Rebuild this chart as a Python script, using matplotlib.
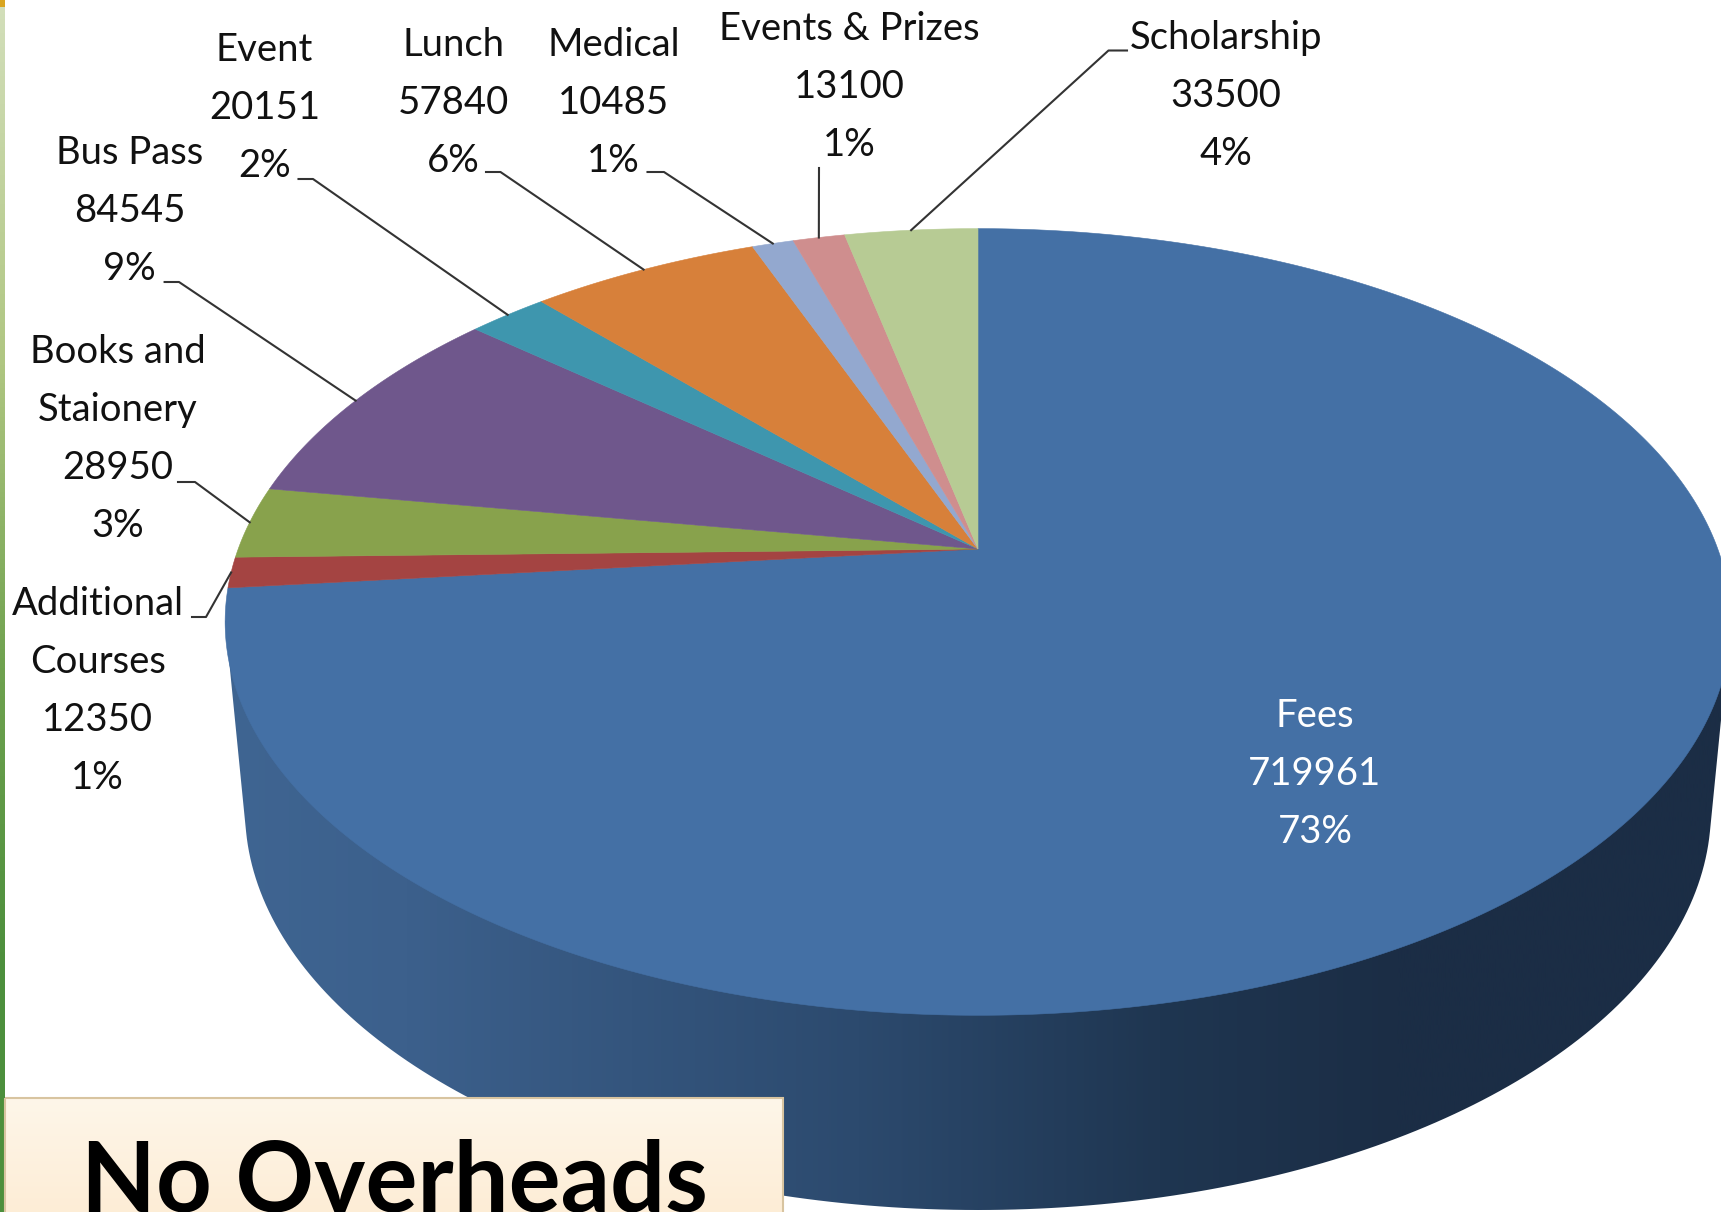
import numpy as np
import matplotlib
matplotlib.use("Agg")
import matplotlib.pyplot as plt
from matplotlib.colors import LinearSegmentedColormap

categories = ["Fees", "Additional\nCourses", "Books and\nStaionery", "Bus Pass", "Event",
              "Lunch", "Medical", "Events & Prizes", "Scholarship"]
values = [719961, 12350, 28950, 84545, 20151, 57840, 10485, 13100, 33500]
percents = ["73%", "1%", "3%", "9%", "2%", "6%", "1%", "1%", "4%"]
colors = ["#4470A5", "#A44442", "#88A24C", "#6F578C", "#3E96AE",
          "#D7803A", "#93A8CF", "#CF8E8E", "#B7CB94"]

# label centres in pixels
label_x = [1315, 97.7, 117.5, 129.5, 264.5, 453, 613.5, 849.5, 1226]
label_y = [774, 691, 439, 211, 108, 103, 103, 87, 96]
# leader lines start at the label, the last point comes from the slice
leaders = [None,
           [(192, 617), (206, 617)],
           [(178, 482), (195, 482)],
           [(164.6, 282), (179, 282)],
           [(298.5, 179), (313, 179)],
           [(486, 172), (500.5, 172)],
           [(647.5, 172), (664, 172)],
           [(819, 168)],
           [(1127, 50.5), (1108.5, 50.5)]]

W, H = 1721, 1212
CX, CY = 978, 549       # where the slices meet
RX, RY, K = 739.8, 379.8, 0.1855  # perspective of the top face


def project(theta):
    # theta clockwise from the top of the pie, radians
    x, y = np.sin(theta), np.cos(theta)
    w = 1 + K * y
    return CX + RX * x / w, CY - RY * y / w


plt.rcParams["font.family"] = ["Lato", "DejaVu Sans"]
fig = plt.figure(figsize=(W / 100, H / 100), dpi=100)
ax = fig.add_axes([0, 0, 1, 1])

# side wall, gradient clipped to the outline
t = np.linspace(0, 2 * np.pi, 721)
top_x, top_y = project(t)
left = np.argmin(top_x)
right = np.argmax(top_x)
# bottom ellipse from tangent point to tangent point, joined to the widest points on top
t_low = np.radians(np.linspace(3.1, 176.9, 181))
lx = 978 + 733 * np.cos(t_low)
ly = 810 + 400 * np.sin(t_low)
outline_x = np.r_[top_x[right], lx, top_x[left]]
outline_y = np.r_[top_y[right], ly, top_y[left]]
wall = ax.fill(outline_x, outline_y, facecolor="none", edgecolor="none")[0]
wall_cmap = LinearSegmentedColormap.from_list(
    "wall", [(0, "#3F6592"), (0.12, "#3C608C"), (0.42, "#2C4A6E"),
             (0.62, "#1F3651"), (0.78, "#1B2D45"), (1, "#1B2D45")])
grad = ax.imshow(np.linspace(0, 1, 512)[None, :], extent=(225, 1731, H, 0),
                 cmap=wall_cmap, aspect="auto", zorder=1)
grad.set_clip_path(wall)

# top face, one slice per value
total = sum(values)
start = 0.0
mids = []
for val, col in zip(values, colors):
    sweep = val / total * 2 * np.pi
    th = np.linspace(start, start + sweep, max(int(sweep * 180), 4))
    xs, ys = project(th)
    ax.fill(np.r_[CX, xs], np.r_[CY, ys], facecolor=col, edgecolor=col, lw=0.4, zorder=2)
    mids.append(start + sweep / 2)
    start += sweep

# labels and leader lines
for i, name in enumerate(categories):
    txt = f"{name}\n{values[i]}\n{percents[i]}"
    ax.text(label_x[i], label_y[i], txt, ha="center", va="center", fontsize=27.5,
            linespacing=1.75, color="white" if i == 0 else "#111111", zorder=5)
    if leaders[i]:
        ex, ey = project(mids[i])
        pts = leaders[i] + [(ex, ey)]
        ax.plot([p[0] for p in pts], [p[1] for p in pts], color="#333333", lw=1.5, zorder=4)

# green slide strip on the left edge
strip_cmap = LinearSegmentedColormap.from_list(
    "strip", [(0, "#D3DFBB"), (0.3, "#AFC681"), (0.55, "#6FA24F"), (0.8, "#4C8F3C"), (1, "#4C8F3C")])
ax.imshow(np.linspace(0, 1, 256)[:, None], extent=(0, 5, H, 0), cmap=strip_cmap,
          aspect="auto", zorder=3)
ax.fill([0, 5, 5, 0], [0, 0, 7, 7], color="#D9A520", lw=0, zorder=3.5)

# caption box
ax.fill([5, 783, 783, 5], [1098, 1098, 1230, 1230], facecolor="none",
        edgecolor="#D8C4A0", lw=1.5, zorder=6)
box_cmap = LinearSegmentedColormap.from_list("box", ["#FEF6E9", "#FDEDD6"])
ax.imshow(np.linspace(0, 1, 64)[:, None], extent=(5, 783, 1212, 1098),
          cmap=box_cmap, aspect="auto", zorder=5.5)
ax.text(394, 1212, "No Overheads", ha="center", va="baseline", fontsize=70,
        fontweight="bold", color="black", zorder=7)

ax.set_xlim(0, W)
ax.set_ylim(H, 0)
ax.axis("off")
fig.savefig("out.png", dpi=100)
